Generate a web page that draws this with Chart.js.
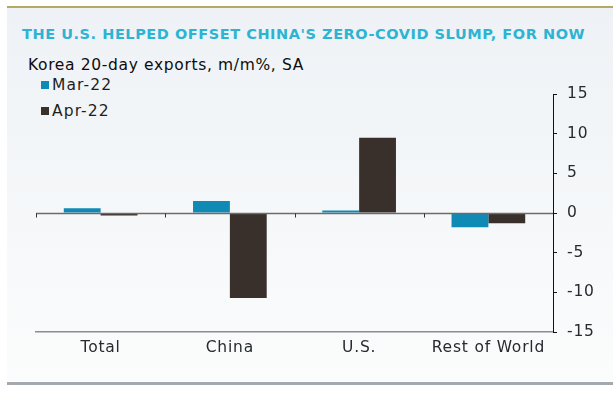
<!DOCTYPE html>
<html>
<head>
<meta charset="utf-8">
<script src="https://cdn.jsdelivr.net/npm/chart.js@4.4.1/dist/chart.umd.min.js"></script>
<style>
  html, body { margin: 0; padding: 0; background: #fff; }
  #wrap { position: relative; width: 616px; height: 395px; overflow: hidden; font-family: "DejaVu Sans", sans-serif; }
  #topline { position: absolute; left: 7px; top: 6px; width: 606px; height: 2px; background: #b3a865; }
  #panel { position: absolute; left: 7px; top: 8px; width: 606px; height: 373px;
           background: linear-gradient(#eef2f6, #fbfcfc); }
  #botline { position: absolute; left: 7px; top: 382px; width: 606px; height: 3px; background: #a3a9ae; }
  #title { position: absolute; left: 22px; top: 26px; font-size: 14.5px; font-weight: bold; color: #2cb4d2; white-space: nowrap; letter-spacing: 0.55px; }
  #subtitle { position: absolute; left: 28px; top: 56px; font-size: 15.5px; color: #0d0d0d; white-space: nowrap; letter-spacing: 0.65px; }
  #legend { position: absolute; left: 41px; top: 75px; font-size: 15.5px; color: #1e1e1e; letter-spacing: 1.1px; }
  #legend div { height: 26px; line-height: 20px; white-space: nowrap; }
  #legend span.sw { display: inline-block; width: 8px; height: 8px; margin-right: 3px; vertical-align: 1px; }
  canvas { position: absolute; left: 0; top: 0; }
</style>
</head>
<body>
<div id="wrap">
  <div id="panel"></div>
  <div id="topline"></div>
  <div id="botline"></div>
  <div id="title">THE U.S. HELPED OFFSET CHINA'S ZERO-COVID SLUMP, FOR NOW</div>
  <div id="subtitle">Korea 20-day exports, m/m%, SA</div>
  <div id="legend"></div>
  <canvas id="chart" width="616" height="395"></canvas>
</div>
<script>
const categories = ['Total', 'China', 'U.S.', 'Rest of World'];
const seriesNames = ['Mar-22', 'Apr-22'];
const mar22 = [0.6, 1.5, 0.3, -1.8];
const apr22 = [-0.3, -10.7, 9.5, -1.3];
const yTicks = [-15, -10, -5, 0, 5, 10, 15];
const colors = ['#0f8ab5', '#3a302b'];

// html legend
const legend = document.getElementById('legend');
seriesNames.forEach(function(name, i){
    const row = document.createElement('div');
    row.innerHTML = '<span class="sw" style="background:' + colors[i] + '"></span>' + name;
    legend.appendChild(row);
});

// a bit wider tracking for the axis labels
const tracking = {
    id: 'tracking',
    beforeDraw(chart) { chart.ctx.letterSpacing = '0.8px'; }
};

// zero line with category ticks
const zeroLine = {
    id: 'zeroLine',
    afterDatasetsDraw(chart) {
        const ctx = chart.ctx;
        const y = chart.scales.y;
        const y0 = Math.round(y.getPixelForValue(0)) + 0.5;
        ctx.save();
        ctx.strokeStyle = '#6b6b6b';
        ctx.lineWidth = 1.5;
        ctx.beginPath();
        ctx.moveTo(chart.chartArea.left, y0);
        ctx.lineTo(chart.chartArea.right, y0);
        ctx.stroke();
        ctx.lineWidth = 1;
        ctx.strokeStyle = '#333';
        const step = (chart.chartArea.right - chart.chartArea.left) / categories.length;
        for (let i = 0; i < categories.length; i++) {
            const tx = Math.round(chart.chartArea.left + i * step) + 0.5;
            ctx.beginPath();
            ctx.moveTo(tx, y0);
            ctx.lineTo(tx, y0 + 4);
            ctx.stroke();
        }
        ctx.restore();
    }
};

new Chart(document.getElementById('chart'), {
    type: 'bar',
    data: {
        labels: categories,
        datasets: [
            { label: seriesNames[0], data: mar22, backgroundColor: colors[0] },
            { label: seriesNames[1], data: apr22, backgroundColor: colors[1] }
        ]
    },
    options: {
        responsive: false,
        animation: false,
        categoryPercentage: 0.57,
        barPercentage: 1.0,
        layout: { padding: { left: 36, top: 94, right: 3, bottom: 0 } },
        plugins: {
            legend: { display: false },
            tooltip: { enabled: false }
        },
        scales: {
            x: {
                grid: { display: false, drawTicks: false },
                border: { display: true, color: '#8a8e92', width: 1.5 },
                ticks: {
                    padding: 7,
                    color: '#262b2f',
                    font: { family: 'DejaVu Sans', size: 15.5 }
                },
                afterFit: function(s){ s.height = 63; }
            },
            y: {
                position: 'right',
                min: -15,
                max: 15,
                afterBuildTicks: function(s){ s.ticks = yTicks.map(v => ({ value: v })); },
                grid: { drawOnChartArea: false, drawTicks: true, tickLength: 4, color: '#111' },
                border: { display: true, color: '#111', width: 1 },
                ticks: {
                    padding: 10,
                    color: '#262b2f',
                    font: { family: 'DejaVu Sans', size: 15.5 }
                },
                afterFit: function(s){ s.width = 60; }
            }
        }
    },
    plugins: [tracking, zeroLine]
});
</script>
</body>
</html>
